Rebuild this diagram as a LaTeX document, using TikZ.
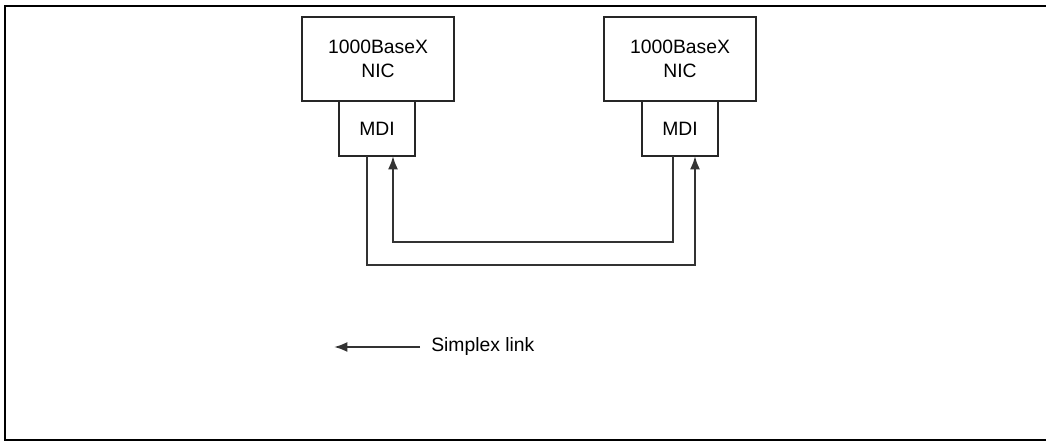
\documentclass[tikz,border=0pt]{standalone}
\usepackage{fontspec}
\setmainfont{Liberation Sans}
\usetikzlibrary{arrows.meta}
\begin{document}
\begin{tikzpicture}[x=0.75pt,y=-0.75pt,
  box/.style={draw=black!85,line width=0.8pt,fill=white,inner sep=0pt,align=center,
    font=\fontsize{14.5}{18}\selectfont},
  nicbox/.style={box,minimum width=114pt,minimum height=63pt},
  mdibox/.style={box,minimum width=57pt,minimum height=41.25pt},
  link/.style={draw=black!80,line width=1.6pt,line join=miter},
  tip/.style={-{Latex[length=10pt,width=7.5pt]}},
  frame/.style={draw=black,line width=1.2pt}]
\useasboundingbox (0,0) rectangle (1046,441);
% frame (open on the right)
\draw[frame] (1046,6) -- (5,6) -- (5,440) -- (1046,440);
\draw[draw=black,line width=1.6pt] (5,6) -- (5,440);
% NIC and MDI boxes
\node[nicbox] (nicL) at (378,59) {1000BaseX\\NIC};
\node[mdibox] (mdiL) at (377,128.5) {MDI};
\node[nicbox] (nicR) at (680,59) {1000BaseX\\NIC};
\node[mdibox] (mdiR) at (680,128.5) {MDI};
% connector end points
\coordinate (outL) at (367,156);
\coordinate (inL) at (393,156);
\coordinate (outR) at (673,156);
\coordinate (inR) at (695,156);
% simplex links
\draw[link,tip] (outL) -- (367,265) -- (695,265) -- (inR);
\draw[link,tip] (outR) -- (673,242) -- (393,242) -- (inL);
% legend
\coordinate (legA) at (420,347);
\coordinate (legB) at (334,347);
\draw[link,tip] (legA) -- (legB);
\node[anchor=west,inner sep=0pt,font=\fontsize{14.5}{18}\selectfont] (legT) at (431,347) {Simplex link};
\end{tikzpicture}
\end{document}
